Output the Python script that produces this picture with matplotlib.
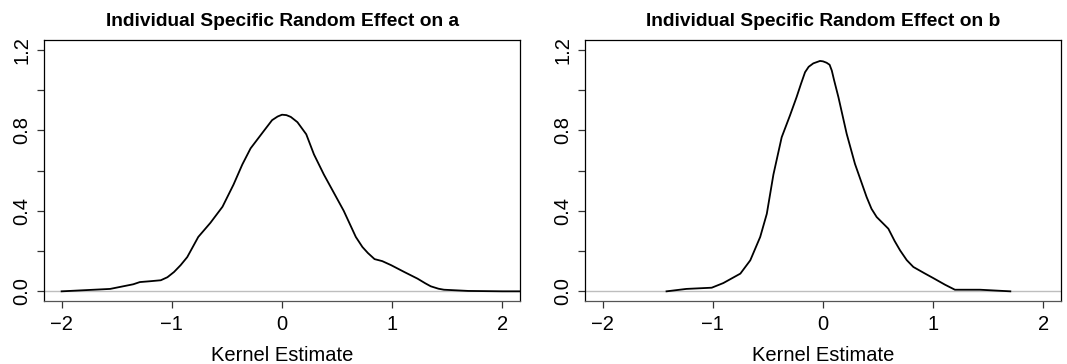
import matplotlib
matplotlib.use("Agg")
import matplotlib.pyplot as plt
import numpy as np

plt.rcParams['font.family'] = ['Liberation Sans', 'DejaVu Sans']

# Density curve, random effect on a
xa = [-2.0, -1.56, -1.35, -1.29, -1.20, -1.10, -1.04, -0.98, -0.92, -0.86, -0.76, -0.65,
      -0.54, -0.44, -0.36, -0.285, -0.16, -0.09, -0.04, 0.0, 0.04, 0.08, 0.14, 0.22,
      0.29, 0.38, 0.47, 0.56, 0.67, 0.73, 0.78, 0.84, 0.91, 0.99, 1.11, 1.23, 1.30,
      1.35, 1.42, 1.47, 1.69, 2.0, 2.2]
ya = [0.0, 0.012, 0.035, 0.046, 0.050, 0.055, 0.070, 0.096, 0.13, 0.17, 0.27, 0.34,
      0.42, 0.53, 0.63, 0.71, 0.80, 0.85, 0.868, 0.877, 0.875, 0.866, 0.84, 0.78,
      0.68, 0.58, 0.49, 0.40, 0.27, 0.22, 0.19, 0.16, 0.15, 0.13, 0.096, 0.063, 0.04,
      0.025, 0.013, 0.008, 0.002, 0.0, 0.0]

# Density curve, random effect on b
xb = [-1.42, -1.24, -1.01, -0.905, -0.75, -0.66, -0.57, -0.51, -0.45, -0.375, -0.30,
      -0.24, -0.20, -0.163, -0.13, -0.088, -0.027, 0.0, 0.033, 0.06, 0.08, 0.10, 0.14,
      0.215, 0.29, 0.396, 0.44, 0.487, 0.593, 0.65, 0.70, 0.76, 0.82, 0.92, 1.0, 1.107,
      1.197, 1.425, 1.70]
yb = [0.0, 0.012, 0.018, 0.041, 0.088, 0.154, 0.27, 0.385, 0.58, 0.765, 0.873,
      0.964, 1.03, 1.088, 1.115, 1.132, 1.144, 1.142, 1.135, 1.125, 1.096, 1.05, 0.964,
      0.782, 0.633, 0.468, 0.41, 0.369, 0.311, 0.25, 0.203, 0.155, 0.121, 0.09, 0.066,
      0.033, 0.008, 0.008, 0.0]

titles = ["Individual Specific Random Effect on a",
          "Individual Specific Random Effect on b"]
xlabel = "Kernel Estimate"
xticks = [-2, -1, 0, 1, 2]
yticks = [0.0, 0.2, 0.4, 0.6, 0.8, 1.0, 1.2]
ytick_labels = ["0.0", "", "0.4", "", "0.8", "", "1.2"]

W, H = 1067, 364
fig = plt.figure(figsize=(W / 100, H / 100), dpi=100)

panels = [(44, xa, ya), (585, xb, yb)]
for i, (left, xs, ys) in enumerate(panels):
    ax = fig.add_axes([left / W, (H - 301) / H, 476 / W, 261 / H])
    ax.axhline(0, color='#bebebe', lw=1.0, zorder=1)
    ax.plot(xs, ys, color='black', lw=1.3, zorder=2, solid_joinstyle='round')
    ax.set_xlim(-2.16, 2.16)
    ax.set_ylim(-0.048, 1.248)
    ax.set_xticks(xticks)
    ax.set_xticklabels(["\u22122", "\u22121", "0", "1", "2"])
    ax.set_yticks(yticks)
    ax.set_yticklabels(ytick_labels, rotation=90, va='center')
    ax.tick_params(axis='x', pad=5)
    ax.tick_params(axis='y', pad=4)
    ax.tick_params(axis='both', labelsize=14.5, length=5, width=0.9, color='#333333')
    for s in ax.spines.values():
        s.set_linewidth(0.9)
    ax.spines['bottom'].set_color('#555555')
    ax.set_xlabel(xlabel, fontsize=14.5, labelpad=9)
    ax.set_title(titles[i], fontsize=13.8, fontweight='bold', pad=10)

fig.savefig("out.png", dpi=100)
